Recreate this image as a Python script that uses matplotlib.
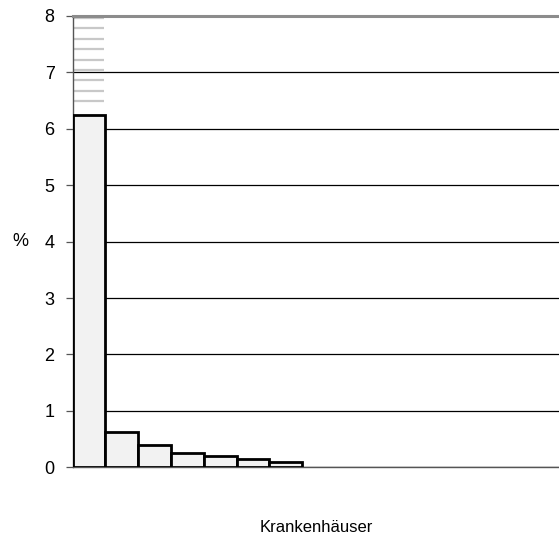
import numpy as np
import matplotlib
matplotlib.use('Agg')
from matplotlib import pyplot as plt

plt.rcParams['font.family'] = ['Liberation Sans', 'DejaVu Sans']

# Anteil je Krankenhaus (%), absteigend sortiert
anteile = [6.24, 0.62, 0.40, 0.25, 0.21, 0.15, 0.09]
y_ticks = [0, 1, 2, 3, 4, 5, 6, 7, 8]

fig = plt.figure(figsize=(5.59, 5.46), dpi=100)
ax = fig.add_axes([0.130, 0.144, 0.870, 0.827])

pos = np.arange(len(anteile))
ax.bar(pos, anteile, width=1.0, align='edge', color='#f2f2f2',
       edgecolor='black', linewidth=2.0, zorder=3)

# abgeschnittener Balken: graue Schraffur oberhalb des ersten Balkens
striche = np.arange(7.96, anteile[0] + 0.2, -0.184)
ax.hlines(striche, 0.04, 0.96, color='#c8c8c8', linewidth=1.6, zorder=2)

ax.set_ylim(0, 8)
ax.set_xlim(0, 14.83)
ax.set_yticks(y_ticks)
ax.set_xticks([])
ax.yaxis.grid(True, color='black', linewidth=0.9, zorder=1)
ax.set_axisbelow(True)

ax.spines['right'].set_visible(False)
ax.spines['top'].set_color('#8c8c8c')
ax.spines['top'].set_linewidth(2.2)
ax.spines['left'].set_color('#555555')
ax.spines['left'].set_linewidth(1.0)
ax.spines['bottom'].set_color('#555555')
ax.spines['bottom'].set_linewidth(1.0)
ax.tick_params(axis='y', length=5, width=0.9, color='#555555', labelsize=13, pad=8)

ax.set_ylabel('%', rotation=0, fontsize=13, va='center')
ax.yaxis.set_label_coords(-0.108, 0.5)
ax.set_xlabel('Krankenhäuser', fontsize=12, labelpad=38)

plt.savefig('out.png', dpi=100)
